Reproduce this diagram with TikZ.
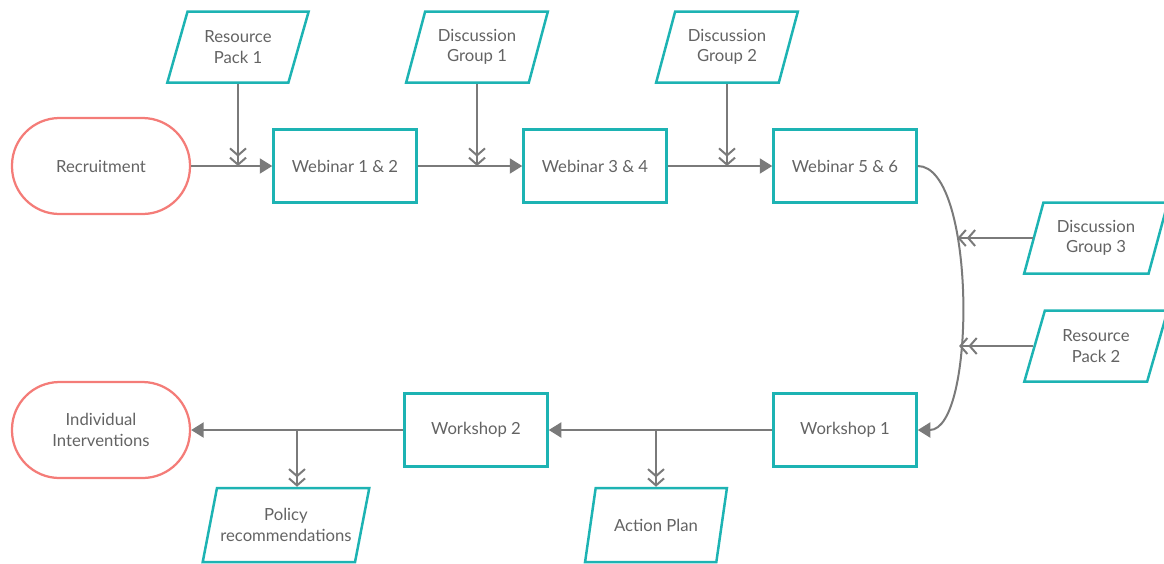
\documentclass[tikz,border=0pt]{standalone}
\usepackage{fontspec}
\setmainfont{Lato}
\usetikzlibrary{arrows.meta}
\usetikzlibrary{shapes.geometric}
\definecolor{boxteal}{HTML}{1DB3B3}
\definecolor{termred}{HTML}{F47C78}
\definecolor{linegray}{HTML}{7A7A7A}
\definecolor{txtgray}{HTML}{636363}

\begin{document}
\begin{tikzpicture}[x=0.2mm, y=-0.2mm,
    every node/.style={font=\fontsize{9.5}{11.5}\selectfont, text=txtgray, align=center},
    term/.style={draw=termred, line width=0.45mm, rounded corners=9.5mm,
      minimum width=35.6mm, minimum height=19.2mm},
    stage/.style={draw=boxteal, line width=0.5mm, minimum width=28.6mm, minimum height=14.6mm},
    doc/.style={draw=boxteal, line width=0.5mm, trapezium, trapezium stretches=true,
      trapezium left angle=73, trapezium right angle=107,
      minimum width=28.4mm, minimum height=14.2mm, inner xsep=0pt},
    flow/.style={draw=linegray, line width=0.4mm, -{Triangle[length=2.5mm,width=3mm]}},
    feed/.style={draw=linegray, line width=0.4mm,
      -{Straight Barb[length=1.4mm,width=3.2mm]Straight Barb[length=1.4mm,width=3.2mm]}}
  ]
    \useasboundingbox (0,0) rectangle (1164,563);

    % top row
    \node[term] (Rec) at (101,166) {Recruitment};
    \node[stage] (W12) at (345,166) {Webinar 1 \& 2};
    \node[stage] (W34) at (595,166) {Webinar 3 \& 4};
    \node[stage] (W56) at (845,166) {Webinar 5 \& 6};
    \node[doc] (RP1) at (238,47) {Resource\\Pack 1};
    \node[doc] (DG1) at (477,47) {Discussion\\Group 1};
    \node[doc] (DG2) at (727,47) {Discussion\\Group 2};

    % right side
    \node[doc, minimum width=28.8mm] (DG3) at (1096,238) {Discussion\\Group 3};
    \node[doc, minimum width=28.8mm] (RP2) at (1096,346) {Resource\\Pack 2};

    % bottom row
    \node[stage] (WS1) at (845,430) {Workshop 1};
    \node[stage] (WS2) at (476,430) {Workshop 2};
    \node[term] (II) at (101,430) {Individual\\Interventions};
    \node[doc, minimum height=14.8mm] (AP) at (656,525) {Action Plan};
    \node[doc, minimum width=33.6mm, minimum height=14.8mm] (PR) at (286,525) {Policy\\recommendations};
    \coordinate (P) at (297,430);

    \draw[flow] (Rec) -- (W12);
    \draw[flow] (W12) -- (W34);
    \draw[flow] (W34) -- (W56);
    \draw[feed] (RP1.south) -- (RP1.south |- W12.west);
    \draw[feed] (DG1.south) -- (DG1.south |- W34.west);
    \draw[feed] (DG2.south) -- (DG2.south |- W56.west);

    \draw[flow] (W56.east) to[out=0, in=0, looseness=0.57]
      coordinate[pos=0.344] (C1) coordinate[pos=0.624] (C2) (WS1.east);
    \draw[feed] (DG3.west) -- (DG3.west -| C1);
    \draw[feed] (RP2.west) -- (RP2.west -| C2);

    \draw[flow] (WS1) -- (WS2);
    \draw[flow] (WS2) -- (II);
    \draw[feed] (AP.north |- WS1.west) -- (AP.north);
    \draw[feed] (P) -- (P |- PR.north);
  \end{tikzpicture}
\end{document}
